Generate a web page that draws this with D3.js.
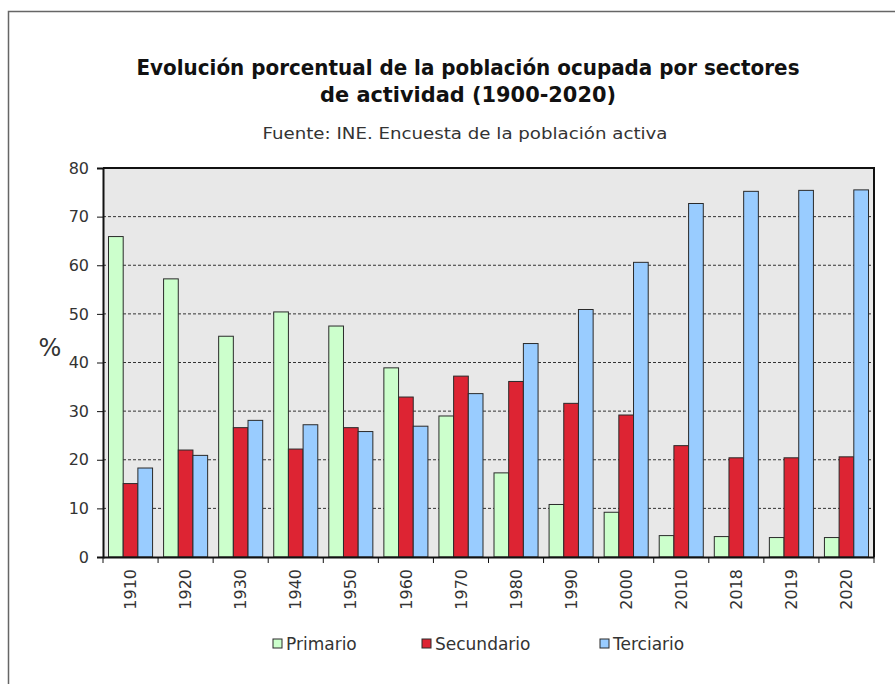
<!DOCTYPE html>
<html>
<head>
<meta charset="utf-8">
<script src="https://cdn.jsdelivr.net/npm/d3@7"></script>
<style>
  html, body { margin: 0; padding: 0; background: #fff; }
  svg { display: block; }
  text { font-family: "DejaVu Sans", sans-serif; }
</style>
</head>
<body>
<script>
const years = ["1910","1920","1930","1940","1950","1960","1970","1980","1990","2000","2010","2018","2019","2020"];
const primario   = [65.9, 57.2, 45.4, 50.4, 47.5, 38.9, 29.0, 17.3, 10.8, 9.2, 4.4, 4.2, 4.0, 4.0];
const secundario = [15.1, 22.0, 26.6, 22.2, 26.6, 32.9, 37.2, 36.1, 31.6, 29.2, 22.9, 20.4, 20.4, 20.6];
const terciario  = [18.3, 20.9, 28.1, 27.2, 25.8, 26.9, 33.6, 43.9, 50.9, 60.6, 72.7, 75.2, 75.4, 75.5];
const seriesNames = ["Primario", "Secundario", "Terciario"];
const seriesColors = ["#ccffcc", "#dd2433", "#99ccff"];
const yTicks = [0, 10, 20, 30, 40, 50, 60, 70, 80];

const W = 895, H = 684;
const m = { left: 103, right: 874, top: 168, bottom: 557 };

const svg = d3.select("body").append("svg").attr("width", W).attr("height", H);

// outer frame
svg.append("path").attr("d", `M8.5,${H} V11.5 H${W}`)
  .attr("fill", "none").attr("stroke", "#666").attr("stroke-width", 1.5);

// titles
svg.append("text").attr("x", 468).attr("y", 75).attr("text-anchor", "middle")
  .attr("font-size", 21).attr("font-weight", "bold").attr("fill", "#111")
  .attr("textLength", 663).attr("lengthAdjust", "spacingAndGlyphs")
  .text("Evolución porcentual de la población ocupada por sectores");
svg.append("text").attr("x", 468).attr("y", 102).attr("text-anchor", "middle")
  .attr("font-size", 21).attr("font-weight", "bold").attr("fill", "#111")
  .attr("textLength", 296).attr("lengthAdjust", "spacingAndGlyphs")
  .text("de actividad (1900-2020)");
svg.append("text").attr("x", 465).attr("y", 139).attr("text-anchor", "middle")
  .attr("font-size", 16).attr("fill", "#333")
  .attr("textLength", 405).attr("lengthAdjust", "spacingAndGlyphs")
  .text("Fuente: INE. Encuesta de la población activa");

const x0 = d3.scaleBand().domain(years).range([m.left, m.right]).paddingInner(0.2).paddingOuter(0.1);
const xb = d3.scaleBand().domain(years).range([m.left, m.right]).padding(0);
const x1 = d3.scaleBand().domain(seriesNames).range([0, x0.bandwidth()]).padding(0);
const y = d3.scaleLinear().domain([0, 80]).range([m.bottom, m.top]);

// plot background
svg.append("rect").attr("x", m.left).attr("y", m.top)
  .attr("width", m.right - m.left).attr("height", m.bottom - m.top).attr("fill", "#e8e8e8");

// gridlines
svg.append("g").selectAll("line").data(yTicks.filter(d => d > 0 && d < 80)).join("line")
  .attr("x1", m.left).attr("x2", m.right).attr("y1", d => y(d)).attr("y2", d => y(d))
  .attr("stroke", "#333").attr("stroke-width", 1).attr("stroke-dasharray", "3,2");

// bars
const data = years.map((yr, i) => ({ yr, vals: [primario[i], secundario[i], terciario[i]] }));
const groups = svg.append("g").selectAll("g").data(data).join("g")
  .attr("transform", d => `translate(${x0(d.yr)},0)`);
groups.selectAll("rect").data(d => d.vals.map((v, k) => ({ v, k }))).join("rect")
  .attr("x", d => x1(seriesNames[d.k]))
  .attr("y", d => y(d.v))
  .attr("width", x1.bandwidth())
  .attr("height", d => y(0) - y(d.v))
  .attr("fill", d => seriesColors[d.k])
  .attr("stroke", "#2a2a2a").attr("stroke-width", 1);

// plot border top & right
svg.append("path").attr("d", `M${m.left},${m.top} H${m.right} V${m.bottom}`)
  .attr("fill", "none").attr("stroke", "#111").attr("stroke-width", 2);

// y axis
const yAxis = svg.append("g").attr("transform", `translate(${m.left},0)`)
  .call(d3.axisLeft(y).tickValues(yTicks).tickSize(6).tickPadding(8));
yAxis.select(".domain").attr("stroke", "#111").attr("stroke-width", 2);
yAxis.selectAll(".tick line").attr("stroke", "#111");
yAxis.selectAll(".tick text").attr("font-size", 16).attr("fill", "#333");

// x axis
const xAxis = svg.append("g").attr("transform", `translate(0,${m.bottom})`)
  .call(d3.axisBottom(xb).tickSize(0).tickPadding(0));
xAxis.select(".domain").attr("stroke", "#111").attr("stroke-width", 2);
xAxis.selectAll(".tick text")
  .attr("font-size", 16).attr("fill", "#333")
  .attr("transform", "rotate(-90)")
  .attr("text-anchor", "end").attr("dy", "0.35em").attr("x", -12).attr("y", 0);
// boundary ticks
const bounds = years.map(yr => xb(yr)).concat([m.right]);
svg.append("g").selectAll("line").data(bounds).join("line")
  .attr("x1", d => d).attr("x2", d => d).attr("y1", m.bottom).attr("y2", m.bottom + 6)
  .attr("stroke", "#111").attr("stroke-width", 1);

// y label
svg.append("text").attr("x", 50).attr("y", 356).attr("text-anchor", "middle")
  .attr("font-size", 24).attr("fill", "#333").text("%");

// legend
const legendX = [273, 422, 600];
const lg = svg.append("g").selectAll("g").data(seriesNames).join("g")
  .attr("transform", (d, i) => `translate(${legendX[i]},639)`);
lg.append("rect").attr("width", 9).attr("height", 9)
  .attr("fill", (d, i) => seriesColors[i]).attr("stroke", "#2a2a2a").attr("stroke-width", 1);
lg.append("text").attr("x", 13).attr("y", 10.5).attr("font-size", 17).attr("fill", "#333").text(d => d);
</script>
</body>
</html>
